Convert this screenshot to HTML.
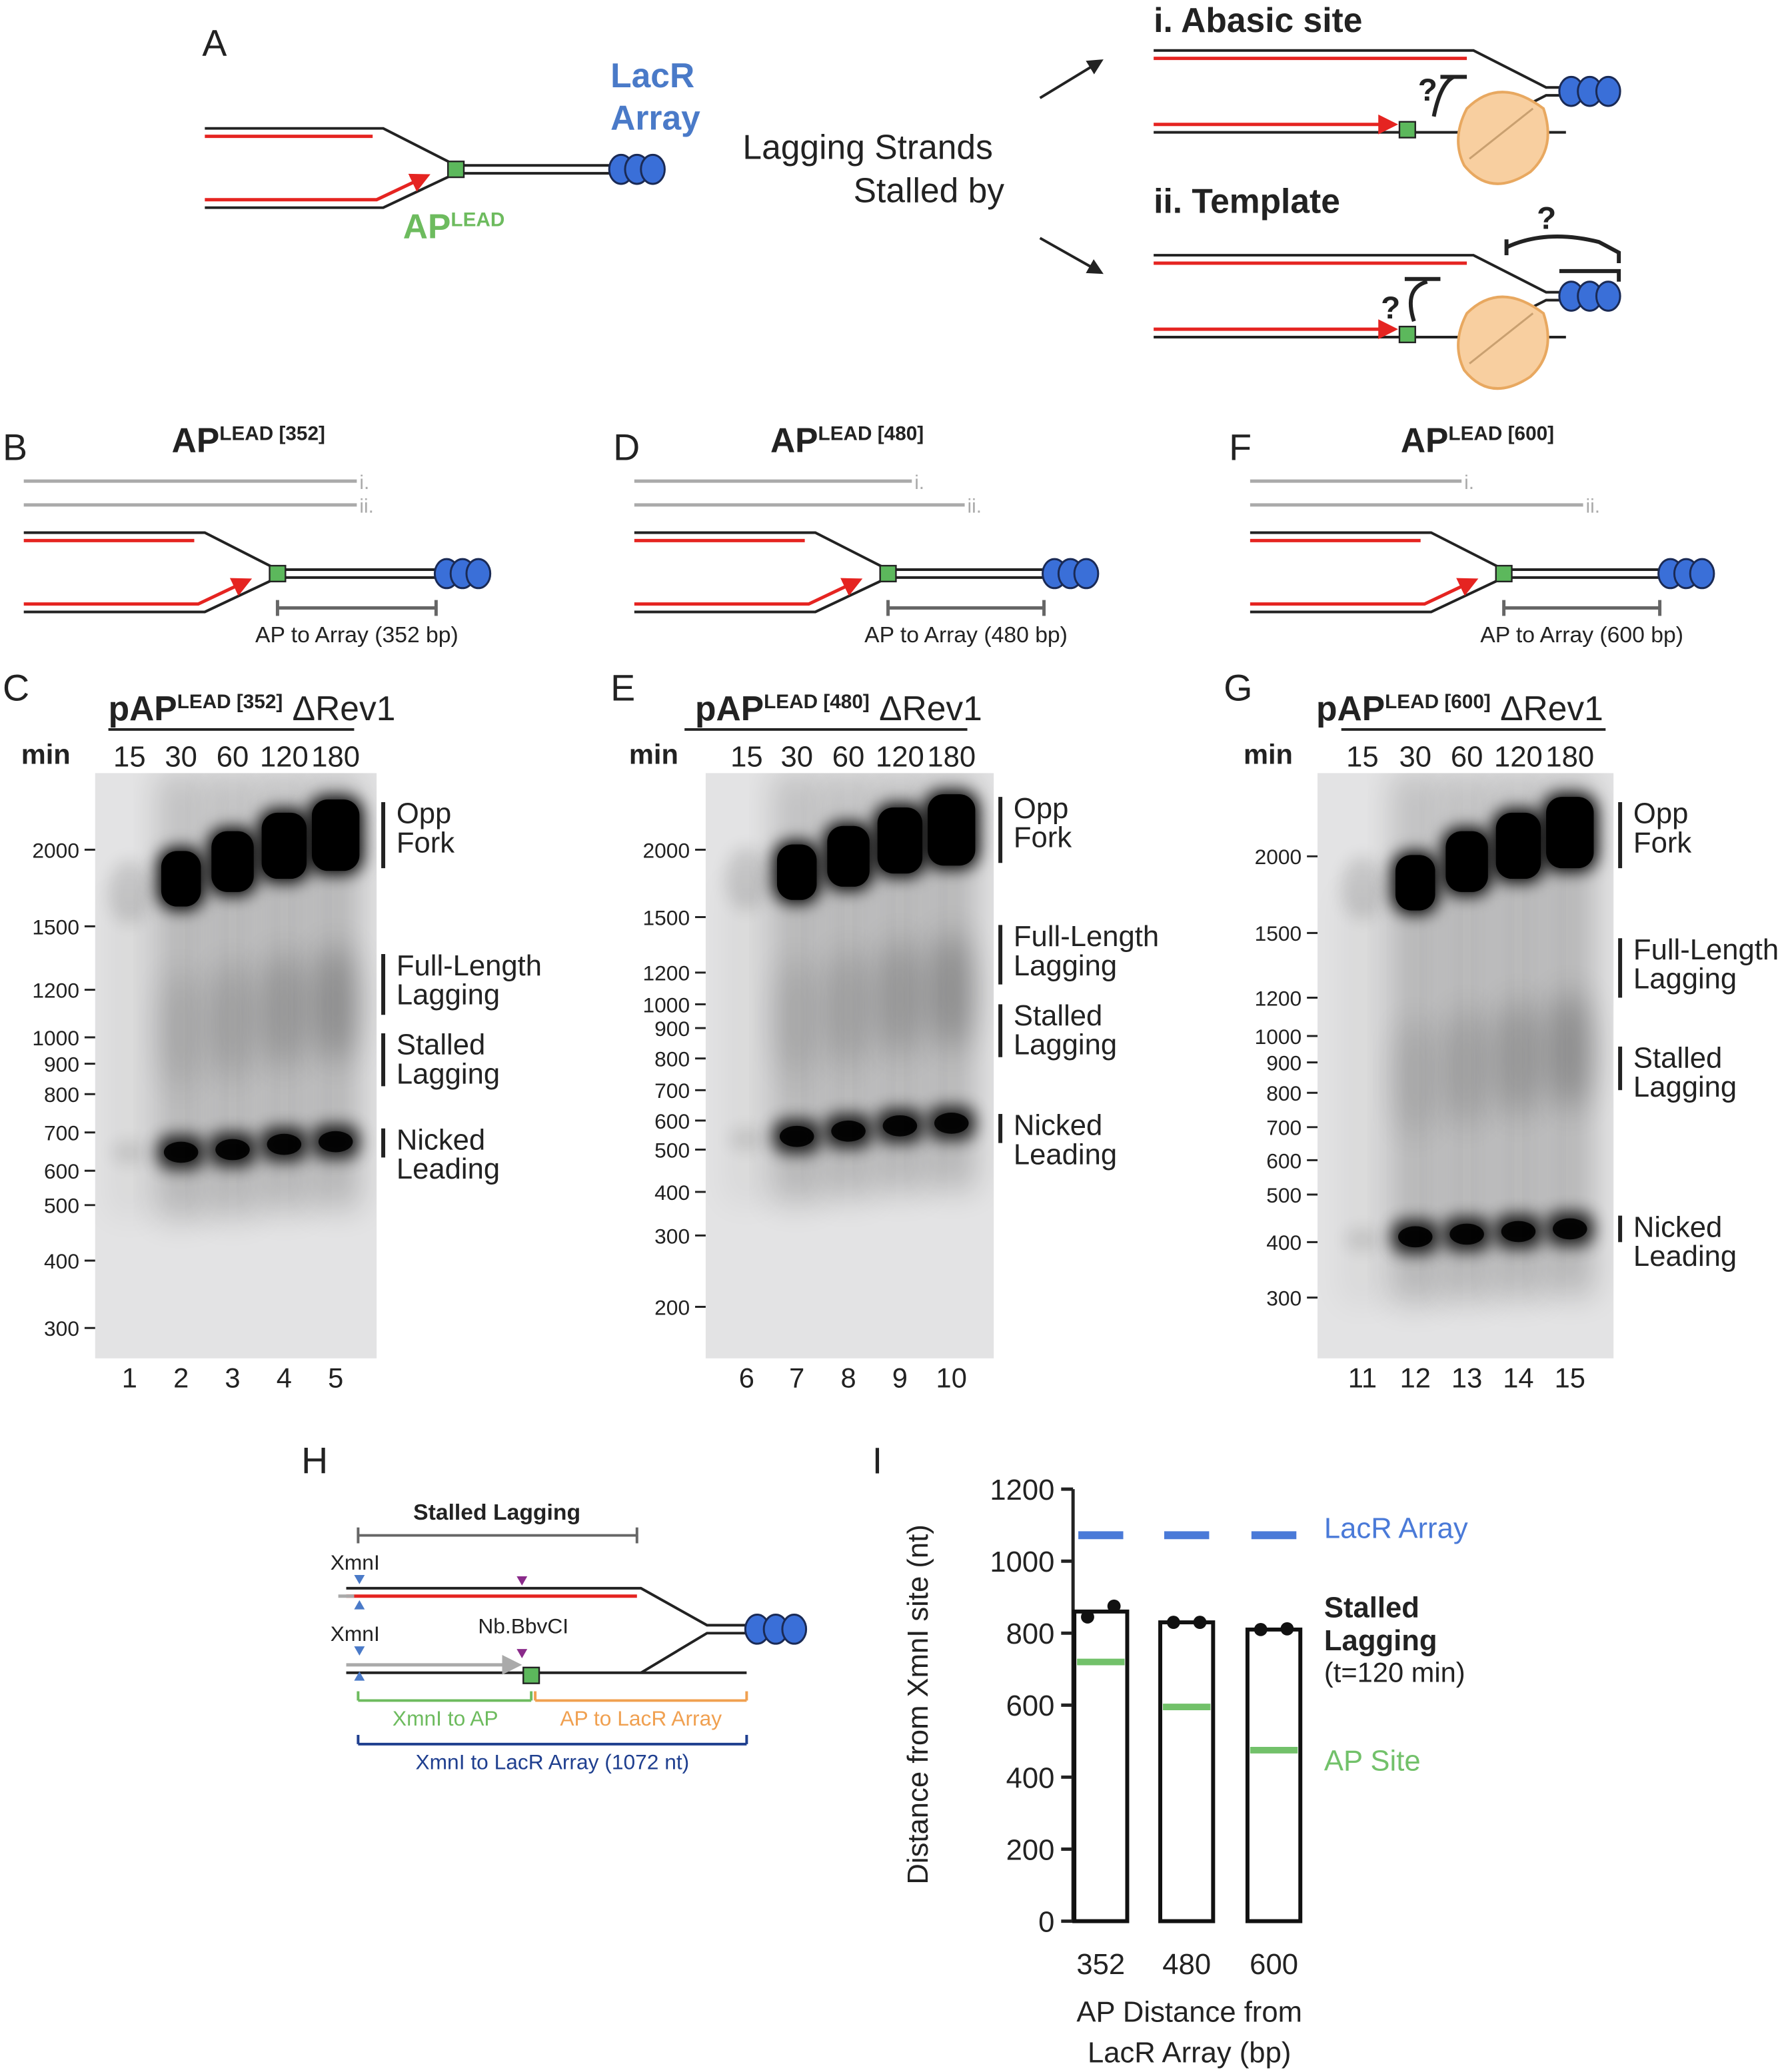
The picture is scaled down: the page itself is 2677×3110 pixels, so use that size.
<!DOCTYPE html>
<html><head><meta charset="utf-8"><style>
html,body{margin:0;padding:0;background:#fff}
svg{display:block}
text{font-family:"Liberation Sans",Arial,sans-serif}
</style></head><body>
<svg id="fig" xmlns="http://www.w3.org/2000/svg" width="2677" height="3110" viewBox="0 0 1350 1568">
<defs>
<filter id="blur" x="-50%" y="-50%" width="200%" height="200%"><feGaussianBlur stdDeviation="6"/></filter>
<filter id="blur2" x="-50%" y="-50%" width="200%" height="200%"><feGaussianBlur stdDeviation="12"/></filter>
<marker id="arr" viewBox="0 0 10 10" refX="8" refY="5" markerWidth="6" markerHeight="6" orient="auto"><path d="M0,0L10,5L0,10z" fill="#e52421"/></marker>
<marker id="arrk" viewBox="0 0 10 10" refX="8" refY="5" markerWidth="6" markerHeight="6" orient="auto"><path d="M0,0L10,5L0,10z" fill="#222"/></marker>
<marker id="arrg" viewBox="0 0 10 10" refX="8" refY="5" markerWidth="6" markerHeight="6" orient="auto"><path d="M0,0L10,5L0,10z" fill="#aaa"/></marker>
</defs>
<g id="diagrams"></g>
<g id="gels"></g>
<g id="chartI"></g>
</svg>
<script>
// ---- Panel I data ----
const categories=["352","480","600"];
const barValues=[860,830,810];
const dotValues=[[845,875],[830,830],[810,812]];
const apSiteValues=[720,595,475];
const lacRValue=1072;
const yTicks=[0,200,400,600,800,1000,1200];

const NS="http://www.w3.org/2000/svg";
function el(p,tag,attrs,txt){const e=document.createElementNS(NS,tag);for(const k in attrs)e.setAttribute(k,attrs[k]);if(txt!==undefined)e.textContent=txt;p.appendChild(e);return e;}
const D=document.getElementById('diagrams'),G=document.getElementById('gels'),C=document.getElementById('chartI');

function txt(p,x,y,s,size,opt){opt=opt||{};const t=el(p,'text',{x:x,y:y,'font-size':size,fill:opt.fill||'#222','font-weight':opt.bold?'bold':'normal','text-anchor':opt.anchor||'start'});t.innerHTML=s;return t;}
function line(p,x1,y1,x2,y2,c,w,extra){const l=el(p,'line',Object.assign({x1,y1,x2,y2,stroke:c||'#222','stroke-width':w||2},extra||{}));return l;}
function circ(p,x,y){const c=el(p,'ellipse',{cx:x,cy:y,rx:9,ry:11,fill:'#3a6fd8',stroke:'#1a2a55','stroke-width':1.5});}
function fork(p,x0,kink,join,end,y,name){
  const g=el(p,'g',{});
  const k='#222';
  el(g,'polyline',{points:`${x0},${y-4} ${kink},${y-4} ${join},${y+24} ${end},${y+24}`,fill:'none',stroke:k,'stroke-width':2});
  el(g,'polyline',{points:`${x0},${y+56} ${kink},${y+56} ${join},${y+30} ${end},${y+30}`,fill:'none',stroke:k,'stroke-width':2});
  line(g,x0,y+2,kink-8,y+2,'#e52421',2.5);
  el(g,'polyline',{points:`${x0},${y+50} ${kink-5},${y+50} ${join-22},${y+32}`,fill:'none',stroke:'#e52421','stroke-width':2.5,'marker-end':'url(#arr)'});
  el(g,'rect',{x:join-6,y:y+21,width:12,height:12,fill:'#5cb85c',stroke:'#222','stroke-width':1.2});
  circ(g,end+8,y+27);circ(g,end+20,y+27);circ(g,end+32,y+27);
}
// Panel A
txt(D,153,42,'A',28,{name:'panel-a-label'});
fork(D,155,290,345,462,101,'fork-diagram-a');
txt(D,462,66,'LacR',26,{fill:'#4a7ac8',bold:true,name:'lacr-label'});
txt(D,462,98,'Array',26,{fill:'#4a7ac8',bold:true,name:'array-label'});
txt(D,305,180,'AP<tspan font-size="15" dy="-9">LEAD</tspan>',26,{fill:'#6dbb5e',bold:true,name:'ap-lead-label'});
txt(D,562,120,'Lagging Strands',26,{name:'lagging-strands-label'});
txt(D,760,153,'Stalled by',26,{anchor:'end',name:'stalled-by-label'});
line(D,787,74,833,46,'#222',2,{'marker-end':'url(#arrk)'});
line(D,787,180,833,206,'#222',2,{'marker-end':'url(#arrk)'});
txt(D,873,24,'i. Abasic site',26,{bold:true,name:'abasic-site-title'});
txt(D,873,161,'ii. Template',26,{bold:true,name:'template-title'});
function inset(y,tpl){
  const g=el(D,'g',{});
  el(g,'polyline',{points:`873,${y} 1115,${y} 1170,${y+28} 1185,${y+28}`,fill:'none',stroke:'#222','stroke-width':2});
  line(g,873,y+6,1110,y+6,'#e52421',2.5);
  el(g,'polyline',{points:`873,${y+62} 1185,${y+62}`,fill:'none',stroke:'#222','stroke-width':2});
  el(g,'polyline',{points:`1185,${y+34} 1170,${y+34} 1115,${y+62}`,fill:'none',stroke:'#222','stroke-width':2});
  line(g,873,y+56,1055,y+56,'#e52421',2.5,{'marker-end':'url(#arr)'});
  el(g,'rect',{x:1059,y:y+54,width:12,height:12,fill:'#5cb85c',stroke:'#222','stroke-width':1.2});
  el(g,'path',{d:`M1110,${y+44} q25,-25 58,0 q10,30 -10,48 q-30,20 -50,-5 q-10,-20 2,-43z`,fill:'#f8cfa0',stroke:'#e8a860','stroke-width':2});
  line(g,1112,y+82,1160,y+44,'#c9a070',1.5);
  circ(g,1189,y+31);circ(g,1203,y+31);circ(g,1217,y+31);
  const bx=tpl?1070:1085;
  el(g,'path',{d:`M${bx},${y+50} q${tpl?-8:5},-25 ${tpl?10:15},-30`,fill:'none',stroke:'#222','stroke-width':3});
  line(g,bx+(tpl?-7:5),y+(tpl?18:20),bx+(tpl?20:25),y+(tpl?18:20),'#222',3);
  txt(g,bx-(tpl?25:12),y+(tpl?48:38),'?',24,{bold:true,name:'question-mark'});
  if(tpl){el(g,'path',{d:`M1140,${y-6} q30,-14 70,-4 l15,8 v8 M1180,${y+12} h45 v8`,fill:'none',stroke:'#222','stroke-width':3});line(g,1140,y-12,1140,y,'#222',3);txt(g,1163,y-20,'?',24,{bold:true,name:'question-mark'});}
}
inset(38,false);inset(193,true);

// Panels B D F
const bdf=[{L:'B',x:0,n:352,end:330,i:270,ii:270},{L:'D',x:462,n:480,end:790,i:690,ii:730},{L:'F',x:928,n:600,end:1256,i:1106,ii:1198}];
bdf.forEach((p,k)=>{
  txt(D,p.x+2,348,p.L,28,{name:'panel-'+p.L.toLowerCase()+'-label'});
  const cx=[188,641,1118][k];
  txt(D,cx,342,'AP<tspan font-size="15" dy="-9">LEAD ['+p.n+']</tspan>',26,{bold:true,anchor:'middle',name:'ap-lead-title'});
  const x0=p.x+18;
  line(D,x0,364,p.i,364,'#aaa',2.5);txt(D,p.i+2,370,'i.',15,{fill:'#aaa',name:'i-marker'});
  line(D,x0,382,p.ii,382,'#aaa',2.5);txt(D,p.ii+2,388,'ii.',15,{fill:'#aaa',name:'ii-marker'});
  fork(D,x0,x0+137,x0+192,p.end,407,'fork-diagram-'+p.L.toLowerCase());
  const a=x0+192;
  line(D,a,460,p.end,460,'#666',2.5);line(D,a,454,a,466,'#666',2.5);line(D,p.end,454,p.end,466,'#666',2.5);
  txt(D,(a+p.end)/2,486,'AP to Array ('+p.n+' bp)',17,{anchor:'middle',name:'ap-to-array-label'});
});

// Gels
const gels=[
 {L:'C',lx:2,n:352,tx:82,ux:[82,268],x0:72,x1:285,y0:585,y1:1028,lanes:[98,137,176,215,254],nums:[1,2,3,4,5],minx:16,
  ticks:[[2000,643],[1500,701],[1200,749],[1000,785],[900,805],[800,828],[700,857],[600,886],[500,912],[400,954],[300,1005]],
  opp:[[675,0.15],[665,1],[652,1],[640,1],[632,1]],nick:[[872,0.12],[872,0.9],[870,0.9],[866,0.95],[864,0.9]],
  labels:[['Opp','Fork',607,657],['Full-Length','Lagging',722,768],['Stalled','Lagging',782,822],['Nicked','Leading',854,876]]},
 {L:'E',lx:462,n:480,tx:526,ux:[518,732],x0:534,x1:752,y0:585,y1:1028,lanes:[565,603,642,681,720],nums:[6,7,8,9,10],minx:476,
  ticks:[[2000,643],[1500,694],[1200,736],[1000,760],[900,778],[800,801],[700,825],[600,848],[500,870],[400,902],[300,935],[200,989]],
  opp:[[665,0.15],[660,1],[648,1],[636,1],[628,1]],nick:[[862,0.12],[860,0.95],[856,0.95],[852,0.9],[850,0.9]],
  labels:[['Opp','Fork',603,653],['Full-Length','Lagging',700,745],['Stalled','Lagging',760,800],['Nicked','Leading',843,865]]},
 {L:'G',lx:926,n:600,tx:996,ux:[1015,1215],x0:997,x1:1221,y0:585,y1:1028,lanes:[1031,1071,1110,1149,1188],nums:[11,12,13,14,15],minx:941,
  ticks:[[2000,648],[1500,706],[1200,755],[1000,784],[900,804],[800,827],[700,853],[600,878],[500,904],[400,940],[300,982]],
  opp:[[672,0.15],[668,1],[652,1],[640,1],[630,1]],nick:[[938,0.12],[936,0.9],[934,0.95],[932,0.9],[930,0.9]],
  labels:[['Opp','Fork',607,657],['Full-Length','Lagging',710,755],['Stalled','Lagging',792,825],['Nicked','Leading',920,940]]}
];
gels.forEach((g,gi)=>{
  const gg=el(G,'g',{});
  txt(gg,g.lx,530,g.L,28,{name:'panel-label'});
  txt(gg,g.tx,545,'<tspan font-weight="bold">AP</tspan><tspan font-weight="bold" font-size="15" dy="-9">LEAD ['+g.n+']</tspan><tspan dy="9"> ΔRev1</tspan>',26,{name:'gel-title'});
  gg.lastChild.innerHTML='<tspan font-weight="bold">pAP</tspan><tspan font-weight="bold" font-size="15" dy="-9">LEAD ['+g.n+']</tspan><tspan dy="9"> ΔRev1</tspan>';
  line(gg,g.ux[0],552,g.ux[1],552,'#222',2);
  txt(gg,g.minx,578,'min',21,{bold:true,name:'min-label'});
  ['15','30','60','120','180'].forEach((m,i)=>txt(gg,g.lanes[i],580,m,22,{anchor:'middle',name:'time-label'}));
  el(gg,'rect',{x:g.x0,y:g.y0,width:g.x1-g.x0,height:g.y1-g.y0,fill:'#e3e3e4'});
  const clip='clip'+gi;const cp=el(gg,'clipPath',{id:clip});el(cp,'rect',{x:g.x0,y:g.y0,width:g.x1-g.x0,height:g.y1-g.y0});
  const b=el(gg,'g',{'clip-path':`url(#${clip})`});
  g.lanes.forEach((lx,i)=>{
    const o=g.opp[i],n=g.nick[i];
    el(b,'rect',{x:lx-18,y:o[0],width:36,height:(n[0]-o[0])+50,fill:'#000',opacity:i==0?0.04:0.2,filter:'url(#blur2)'});
    if(i>0){el(b,'rect',{x:lx-18,y:g.y0,width:36,height:o[0]-g.y0,fill:'#000',opacity:0.15,filter:'url(#blur2)'});}
    if(i>0){const my=(o[0]*0.45+n[0]*0.55);el(b,'ellipse',{cx:lx,cy:my,rx:16,ry:45,fill:'#000',opacity:0.06+0.05*i,filter:'url(#blur2)'});}
    if(i==0){el(b,'ellipse',{cx:lx,cy:o[0],rx:16,ry:24,fill:'#000',opacity:0.12,filter:'url(#blur)'});}
    else{
      const w=34+i*2,h=44+i*4;
      el(b,'rect',{x:lx-w/2,y:o[0]-h/2,width:w,height:h,rx:14,fill:'#000',filter:'url(#blur)'});
      el(b,'rect',{x:lx-w/2+3,y:o[0]-h/2+3,width:w-6,height:h-6,rx:12,fill:'#000'});
    }
    if(i==0) el(b,'ellipse',{cx:lx,cy:n[0],rx:13,ry:9,fill:'#000',opacity:0.1,filter:'url(#blur)'});
    else{
      el(b,'rect',{x:lx-18,y:n[0]-13,width:36,height:26,rx:10,fill:'#000',opacity:0.85,filter:'url(#blur)'});
      el(b,'ellipse',{cx:lx,cy:n[0],rx:13,ry:8,fill:'#000',opacity:0.9});
    }
    txt(gg,lx,1050,String(g.nums[i]),21,{anchor:'middle',name:'lane-number'});
  });
  g.ticks.forEach(t=>{line(gg,g.x0-8,t[1],g.x0,t[1],'#222',1.5);txt(gg,g.x0-12,t[1]+6,String(t[0]),16,{anchor:'end',name:'size-tick'});});
  g.labels.forEach(l=>{const lx=g.x1+5;line(gg,lx,l[2],lx,l[3],'#222',3);txt(gg,lx+10,l[2]+16,l[0],22,{name:'band-label'});txt(gg,lx+10,l[2]+38,l[1],22,{name:'band-label'});});
});

// Panel H
const H=el(D,'g',{});
txt(H,228,1115,'H',28,{name:'panel-h-label'});
txt(H,376,1150,'Stalled Lagging',17,{bold:true,anchor:'middle',name:'stalled-lagging-title'});
line(H,271,1162,482,1162,'#666',2);line(H,271,1156,271,1168,'#666',2);line(H,482,1156,482,1168,'#666',2);
txt(H,250,1188,'XmnI',16,{name:'xmni-label'});txt(H,250,1242,'XmnI',16,{name:'xmni-label'});
el(H,'polyline',{points:'262,1202 485,1202 535,1230 565,1230',fill:'none',stroke:'#222','stroke-width':2});
line(H,262,1208,482,1208,'#e52421',2.5);line(H,256,1208,268,1208,'#aaa',2.5);
el(H,'polyline',{points:'262,1266 565,1266',fill:'none',stroke:'#222','stroke-width':2});
el(H,'polyline',{points:'565,1236 535,1236 485,1266',fill:'none',stroke:'#222','stroke-width':2});
line(H,262,1260,392,1260,'#aaa',2.5,{'marker-end':'url(#arrg)'});
el(H,'rect',{x:396,y:1262,width:12,height:12,fill:'#5cb85c',stroke:'#222','stroke-width':1.2});
el(H,'path',{d:'M268,1192 l8,0 l-4,7z M268,1218 l8,0 l-4,-7z M268,1246 l8,0 l-4,7z M268,1272 l8,0 l-4,-7z',fill:'#4a7ac8'});
el(H,'path',{d:'M391,1193 l8,0 l-4,7z M391,1248 l8,0 l-4,7z',fill:'#8a2a8a'});
txt(H,396,1236,'Nb.BbvCI',16,{anchor:'middle',name:'nbbbvci-label'});
circ(H,573,1233);circ(H,587,1233);circ(H,601,1233);
line(H,271,1287,402,1287,'#6dbb5e',2);line(H,271,1280,271,1287,'#6dbb5e',2);line(H,402,1280,402,1287,'#6dbb5e',2);
line(H,405,1287,565,1287,'#f0a050',2);line(H,405,1280,405,1287,'#f0a050',2);line(H,565,1280,565,1287,'#f0a050',2);
txt(H,337,1306,'XmnI to AP',16,{fill:'#6dbb5e',anchor:'middle',name:'xmni-to-ap-label'});
txt(H,485,1306,'AP to LacR Array',16,{fill:'#f0a050',anchor:'middle',name:'ap-to-lacr-label'});
line(H,271,1320,565,1320,'#1f3f8f',2);line(H,271,1313,271,1320,'#1f3f8f',2);line(H,565,1313,565,1320,'#1f3f8f',2);
txt(H,418,1339,'XmnI to LacR Array (1072 nt)',16,{fill:'#1f3f8f',anchor:'middle',name:'xmni-to-lacr-label'});

// Panel I chart
const ax0=812,yTop=1127,yBot=1454,yMax=1200;
const yS=v=>yBot-(v/yMax)*(yBot-yTop);
const xC=[833,898,964],bw=40;
txt(C,660,1115,'I',28,{name:'panel-i-label'});
line(C,ax0,yTop,ax0,yBot+1,'#222',2.5);
yTicks.forEach(t=>{const y=yS(t);const l=line(C,ax0-9,y,ax0,y,'#222',2.5);txt(C,ax0-14,y+8,String(t),22,{anchor:'end',name:'y-tick-label'});});
const yt=txt(C,0,0,'Distance from XmnI site (nt)',22,{anchor:'middle',name:'y-axis-title'});yt.setAttribute('transform','translate(702,1290) rotate(-90)');
categories.forEach((c,i)=>{
  const x=xC[i];
  const r=el(C,'rect',{x:x-bw/2,y:yS(barValues[i]),width:bw,height:yBot-yS(barValues[i]),fill:'#fff',stroke:'#111','stroke-width':3});
  
  const lr=line(C,x-bw/2+3,yS(lacRValue),x+bw/2-3,yS(lacRValue),'#4a7ad8',6);
  
  const ap=line(C,x-bw/2+2,yS(apSiteValues[i]),x+bw/2-2,yS(apSiteValues[i]),'#72c16a',5);
  
  dotValues[i].forEach((v,j)=>{const d=el(C,'circle',{cx:x-10+20*j,cy:yS(v),r:5,fill:'#111'});});
  txt(C,x,1494,c,22,{anchor:'middle',name:'x-tick-label'});
});
txt(C,1002,1164,'LacR Array',22,{fill:'#4a7ad8',name:'legend-lacr'});
txt(C,1002,1224,'Stalled',22,{bold:true,name:'legend-stalled'});
txt(C,1002,1249,'Lagging',22,{bold:true,name:'legend-lagging'});
txt(C,1002,1273,'(t=120 min)',21,{name:'legend-time'});
txt(C,1002,1340,'AP Site',22,{fill:'#72c16a',name:'legend-ap-site'});
txt(C,900,1530,'AP Distance from',22,{anchor:'middle',name:'x-axis-title-1'});
txt(C,900,1561,'LacR Array (bp)',22,{anchor:'middle',name:'x-axis-title-2'});
</script>
</body></html>
